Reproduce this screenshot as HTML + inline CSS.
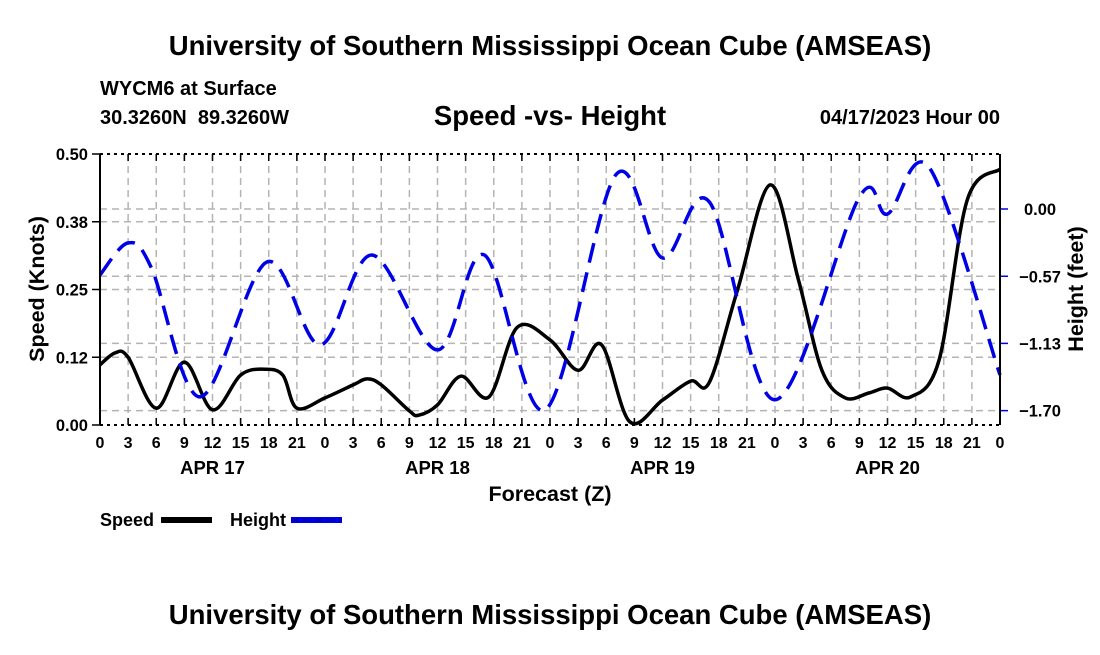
<!DOCTYPE html>
<html><head><meta charset="utf-8"><style>
body{margin:0;background:#fff;}
svg text{font-family:"Liberation Sans",Arial,sans-serif;font-weight:bold;fill:#000;}
</style></head><body>
<svg id="chart" width="1100" height="650" viewBox="0 0 1100 650" xmlns="http://www.w3.org/2000/svg">
<text x="550" y="55" font-size="27.5" text-anchor="middle">University of Southern Mississippi Ocean Cube (AMSEAS)</text>
<text x="100" y="95" font-size="20">WYCM6 at Surface</text>
<text x="100" y="124" font-size="20" xml:space="preserve">30.3260N  89.3260W</text>
<text x="550" y="125" font-size="27.5" text-anchor="middle">Speed -vs- Height</text>
<text x="1000" y="124" font-size="20" text-anchor="end">04/17/2023 Hour 00</text>
<g id="grid"></g>
<g id="marks"></g>
<g id="axes"></g>
<text x="550" y="501" font-size="21.5" text-anchor="middle">Forecast (Z)</text>
<text transform="translate(44,289) rotate(-90)" font-size="21.5" text-anchor="middle">Speed (Knots)</text>
<text transform="translate(1083,289) rotate(-90)" font-size="21.5" text-anchor="middle">Height (feet)</text>
<g>
<text x="100" y="526" font-size="18">Speed</text>
<rect x="161" y="517" width="51" height="6" fill="#000"/>
<text x="230" y="526" font-size="18">Height</text>
<rect x="291" y="517" width="51" height="6" fill="#0000e6"/>
<line x1="291" y1="520" x2="342" y2="520" stroke="#000080" stroke-width="1" stroke-dasharray="8,4"/>
</g>
<text x="550" y="624" font-size="27.5" text-anchor="middle">University of Southern Mississippi Ocean Cube (AMSEAS)</text>
</svg>
<script>
const speedHours=[0,1.6,3,6,9,12,15,17.5,19.5,21,24,27,28.5,30,33,34,36,38.5,41.5,44.5,48,51,53.5,56.5,60,63,65,68,71.5,74.5,77,79.5,82,84,86.5,89.5,92.5,96];
const speedValues=[0.111,0.133,0.125,0.031,0.116,0.028,0.092,0.103,0.092,0.031,0.05,0.074,0.085,0.074,0.026,0.018,0.037,0.09,0.052,0.18,0.157,0.101,0.148,0.006,0.046,0.081,0.079,0.249,0.443,0.268,0.101,0.05,0.059,0.068,0.052,0.12,0.415,0.472];
const heightHours=[0,3,5.5,10.7,17.8,23.5,29,36,41,47.5,55,60,65,72,81,84,88.5,96];
const heightValues=[-0.556,-0.286,-0.5,-1.584,-0.447,-1.146,-0.388,-1.188,-0.388,-1.693,0.286,-0.413,0.059,-1.609,0.101,-0.042,0.345,-1.399];
const xTickLabels=["0","3","6","9","12","15","18","21","0","3","6","9","12","15","18","21","0","3","6","9","12","15","18","21","0","3","6","9","12","15","18","21","0"];
const dayLabels=["APR 17","APR 18","APR 19","APR 20"];
const leftTicks=[0,0.125,0.25,0.375,0.5];
const leftTickLabels=["0.00","0.12","0.25","0.38","0.50"];
const rightTicks=[0,-0.567,-1.133,-1.7];
const rightTickLabels=["0.00","\u22120.57","\u22121.13","\u22121.70"];

const X0=100,X1=1000,Y0=154,Y1=425;
const xs=h=>X0+(h/96)*(X1-X0);
const ys=v=>Y1-(v/0.5)*(Y1-Y0);
const yh=v=>209-(v/0.567)*67.25;
const NS="http://www.w3.org/2000/svg";
function mk(tag,attrs,parent){const e=document.createElementNS(NS,tag);for(const k in attrs)e.setAttribute(k,attrs[k]);parent.appendChild(e);return e;}
const grid=document.getElementById('grid'),marks=document.getElementById('marks'),axes=document.getElementById('axes');

for(let i=0;i<xTickLabels.length;i++){
  const x=xs(i*3);
  if(i>0&&i<32){const l=mk('line',{x1:x,y1:Y0,x2:x,y2:Y1,stroke:'#b4b4b4','stroke-width':1.5,'stroke-dasharray':'7,5'},grid);
  
  }
  const t1=mk('line',{x1:x,y1:Y1,x2:x,y2:Y1-7,stroke:'#000','stroke-width':1.5},axes);
  
  
  const t2=mk('line',{x1:x,y1:Y0,x2:x,y2:Y0+7,stroke:'#000','stroke-width':1.5},axes);
  
  
  const tx=mk('text',{x:x,y:448,'font-size':16,'text-anchor':'middle'},axes);tx.textContent=xTickLabels[i];
  
  
}
dayLabels.forEach((d,i)=>{const t=mk('text',{x:xs(12+24*i),y:474,'font-size':18.5,'text-anchor':'middle'},axes);t.textContent=d;
  
  });
leftTicks.forEach((v,i)=>{const y=ys(v);
  if(i>0&&i<leftTicks.length-1){const g=mk('line',{x1:X0,y1:y,x2:X1,y2:y,stroke:'#b4b4b4','stroke-width':1.5,'stroke-dasharray':'7,5'},grid);
  
  }
  const tk=mk('line',{x1:X0-8,y1:y,x2:X0,y2:y,stroke:'#000','stroke-width':1.5},axes);
  
  
  const t=mk('text',{x:88,y:y+6,'font-size':16.5,'text-anchor':'end'},axes);t.textContent=leftTickLabels[i];
  
  });
rightTicks.forEach((v,i)=>{const y=yh(v);
  const g=mk('line',{x1:X0,y1:y,x2:X1,y2:y,stroke:'#b4b4b4','stroke-width':1.5,'stroke-dasharray':'7,5'},grid);
  
  
  const tk=mk('line',{x1:X1,y1:y,x2:X1+8,y2:y,stroke:'#0000e6','stroke-width':1.5},axes);
  
  
  const t=mk('text',{x:1040,y:y+6,'font-size':16.5,'text-anchor':'middle'},axes);t.textContent=rightTickLabels[i];
  
  });
[[X0,Y0,X1,Y0,'top-axis'],[X0,Y1,X1,Y1,'bottom-axis']].forEach(a=>{
  const l=mk('line',{x1:a[0],y1:a[1],x2:a[2],y2:a[3],stroke:'#000','stroke-width':2,'stroke-dasharray':'3,4'},axes);
  
  });
[[X0,'left-axis'],[X1,'right-axis']].forEach(a=>{
  const l=mk('line',{x1:a[0],y1:Y0,x2:a[0],y2:Y1,stroke:'#000','stroke-width':2},axes);
  
  });

function spline(pts){
  let d='M'+pts[0][0].toFixed(1)+','+pts[0][1].toFixed(1);
  for(let i=0;i<pts.length-1;i++){
    const p0=pts[Math.max(0,i-1)],p1=pts[i],p2=pts[i+1],p3=pts[Math.min(pts.length-1,i+2)];
    const c1=[p1[0]+(p2[0]-p0[0])/6,p1[1]+(p2[1]-p0[1])/6];
    const c2=[p2[0]-(p3[0]-p1[0])/6,p2[1]-(p3[1]-p1[1])/6];
    d+=' C'+c1[0].toFixed(1)+','+c1[1].toFixed(1)+' '+c2[0].toFixed(1)+','+c2[1].toFixed(1)+' '+p2[0].toFixed(1)+','+p2[1].toFixed(1);
  }
  return d;
}
const sp=mk('path',{d:spline(speedHours.map((h,i)=>[xs(h),ys(speedValues[i])])),fill:'none',stroke:'#000','stroke-width':3.5},marks);


const hp=mk('path',{d:spline(heightHours.map((h,i)=>[xs(h),yh(heightValues[i])])),fill:'none',stroke:'#0000e6','stroke-width':3.5,'stroke-dasharray':'20,10'},marks);


</script>
</body></html>
